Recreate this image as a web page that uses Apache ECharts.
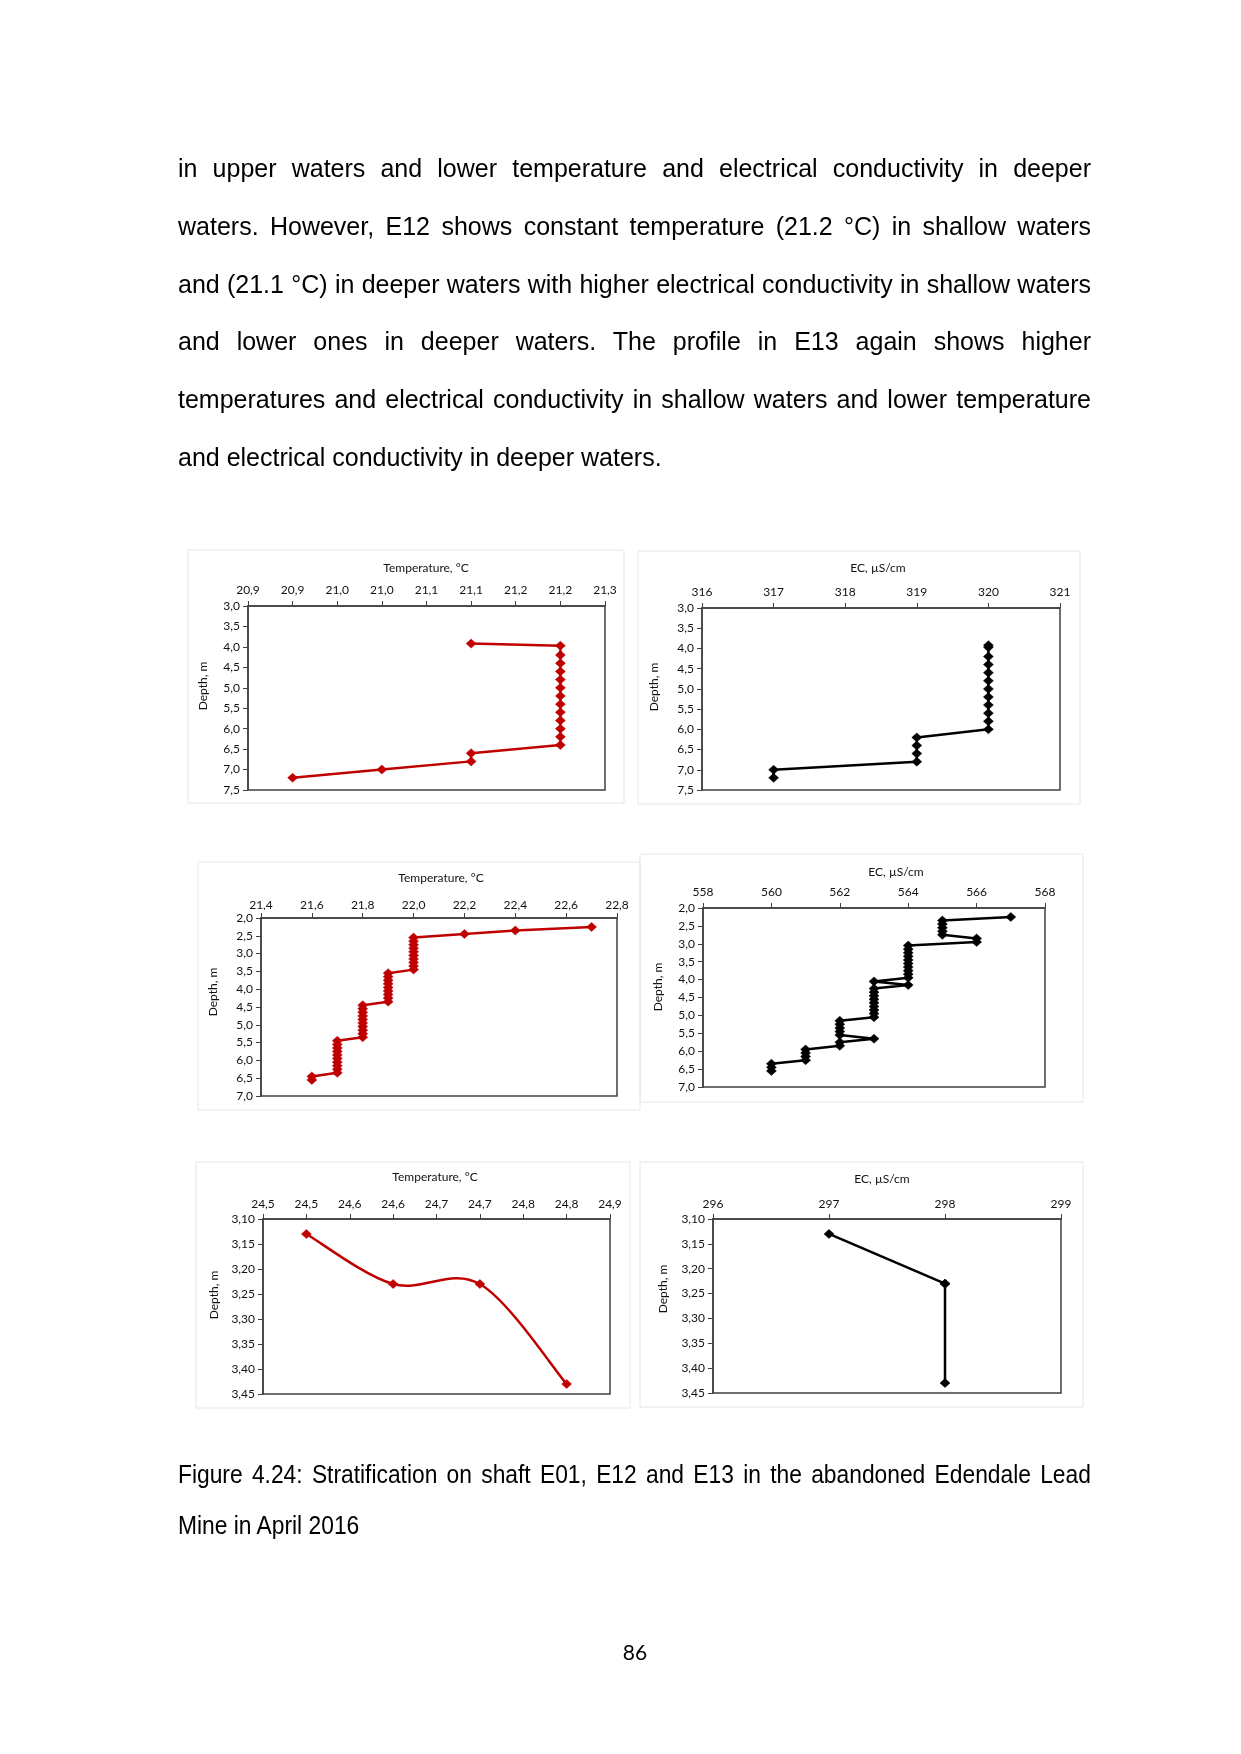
<!DOCTYPE html>
<html><head><meta charset="utf-8">
<script src="https://cdn.jsdelivr.net/npm/echarts@6/dist/echarts.min.js"></script>
<style>
html,body{margin:0;padding:0;background:#fff;}
#page{position:relative;width:1241px;height:1754px;overflow:hidden;background:#fff;}
#chart{position:absolute;left:0;top:0;width:1241px;height:1754px;}
.t{position:absolute;left:178px;width:913px;font-family:"Liberation Sans",Arial,sans-serif;font-size:25px;line-height:28px;color:#000;text-align:justify;text-align-last:justify;}
.last{text-align-last:left;}
.cap{position:absolute;left:178px;font-family:"Liberation Sans",Arial,sans-serif;font-size:25px;line-height:28px;color:#000;transform-origin:0 0;transform:scaleX(0.912);width:1001px;text-align:justify;text-align-last:justify;}
.pn{position:absolute;left:600px;width:70px;text-align:center;font-family:Lato,sans-serif;font-size:21px;line-height:24px;color:#000;}
</style>
</head><body>
<div id="page">
<div id="chart"></div>
<div class="t" style="top:154px">in upper waters and lower temperature and electrical conductivity in deeper</div>
<div class="t" style="top:211.8px">waters. However, E12 shows constant temperature (21.2 °C) in shallow waters</div>
<div class="t" style="top:269.6px">and (21.1 °C) in deeper waters with higher electrical conductivity in shallow waters</div>
<div class="t" style="top:327.4px">and lower ones in deeper waters. The profile in E13 again shows higher</div>
<div class="t" style="top:385.2px">temperatures and electrical conductivity in shallow waters and lower temperature</div>
<div class="t last" style="top:443px">and electrical conductivity in deeper waters.</div>
<div class="cap" style="top:1460px">Figure 4.24: Stratification on shaft E01, E12 and E13 in the abandoned Edendale Lead</div>
<div class="cap" style="top:1511px;text-align-last:left;">Mine in April 2016</div>
<div class="pn" style="top:1640px">86</div>
</div>
<script>
// ---------- DATA ----------
// Shaft E01 (depth in m, temperature in °C, EC in µS/cm)
const e01Depth = [3.92, 3.97, 4.2, 4.4, 4.6, 4.8, 5.0, 5.2, 5.4, 5.6, 5.8, 6.0, 6.2, 6.4, 6.6, 6.8, 7.0, 7.2];
const e01Temp  = [21.1, 21.2, 21.2, 21.2, 21.2, 21.2, 21.2, 21.2, 21.2, 21.2, 21.2, 21.2, 21.2, 21.2, 21.1, 21.1, 21.0, 20.9];
const e01EC    = [320, 320, 320, 320, 320, 320, 320, 320, 320, 320, 320, 320, 319, 319, 319, 319, 317, 317];

// Shaft E12
const e12Depth = [2.25, 2.35, 2.45, 2.55, 2.65, 2.75, 2.85, 2.95, 3.05, 3.15, 3.25, 3.35, 3.45, 3.55, 3.65, 3.75, 3.85, 3.95, 4.05, 4.15, 4.25, 4.35,
                  4.45, 4.55, 4.65, 4.75, 4.85, 4.95, 5.05, 5.15, 5.25, 5.35, 5.45, 5.55, 5.65, 5.75, 5.85, 5.95, 6.05, 6.15, 6.25, 6.35, 6.45, 6.55];
const e12Temp  = [22.7, 22.4, 22.2, 22.0, 22.0, 22.0, 22.0, 22.0, 22.0, 22.0, 22.0, 22.0, 22.0, 21.9, 21.9, 21.9, 21.9, 21.9, 21.9, 21.9, 21.9, 21.9,
                  21.8, 21.8, 21.8, 21.8, 21.8, 21.8, 21.8, 21.8, 21.8, 21.8, 21.7, 21.7, 21.7, 21.7, 21.7, 21.7, 21.7, 21.7, 21.7, 21.7, 21.6, 21.6];
const e12EC    = [567, 565, 565, 565, 565, 565, 566, 566, 564, 564, 564, 564, 564, 564, 564, 564, 564, 564, 563, 564,
                  563, 563, 563, 563, 563, 563, 563, 563, 563, 562, 562, 562, 562, 562, 563, 562, 562, 561, 561, 561, 561, 560, 560, 560];

// Shaft E13
const e13Depth = [3.13, 3.23, 3.23, 3.43];
const e13Temp  = [24.5, 24.6, 24.7, 24.8];
const e13EC    = [297, 298, 298, 298];

// Tick labels (as printed on the axes)
const e01TempTicks  = ['20,9', '20,9', '21,0', '21,0', '21,1', '21,1', '21,2', '21,2', '21,3'];
const e01ECTicks    = ['316', '317', '318', '319', '320', '321'];
const e01DepthTicks = ['3,0', '3,5', '4,0', '4,5', '5,0', '5,5', '6,0', '6,5', '7,0', '7,5'];
const e12TempTicks  = ['21,4', '21,6', '21,8', '22,0', '22,2', '22,4', '22,6', '22,8'];
const e12ECTicks    = ['558', '560', '562', '564', '566', '568'];
const e12DepthTicks = ['2,0', '2,5', '3,0', '3,5', '4,0', '4,5', '5,0', '5,5', '6,0', '6,5', '7,0'];
const e13TempTicks  = ['24,5', '24,5', '24,6', '24,6', '24,7', '24,7', '24,8', '24,8', '24,9'];
const e13ECTicks    = ['296', '297', '298', '299'];
const e13DepthTicks = ['3,10', '3,15', '3,20', '3,25', '3,30', '3,35', '3,40', '3,45'];

const tempTitle = 'Temperature, °C';
const ecTitle = 'EC, µS/cm';
const depthTitle = 'Depth, m';

// ---------- LAYOUT ----------
const RED = '#c00000', BLACK = '#000000', AX = '#404040', TXT = '#111111';
const FONT = 'Lato, "Open Sans", sans-serif';

const panels = [
  {grid:[248,606,357,184], x:[20.85,21.25,0.05,e01TempTicks], y:[3,7.5,0.5,e01DepthTicks], xm:10, xv:e01Temp, yv:e01Depth, color:RED, title:tempTitle, tp:[426,568], dp:[203,686], frame:[188,550,436,253]},
  {grid:[702,608,358,182], x:[316,321,1,e01ECTicks], y:[3,7.5,0.5,e01DepthTicks], xm:10, xv:e01EC, yv:e01Depth, color:BLACK, title:ecTitle, tp:[878,568], dp:[654,687], frame:[638,551,442,253]},
  {grid:[261,918,356,178], x:[21.4,22.8,0.2,e12TempTicks], y:[2,7,0.5,e12DepthTicks], xm:7, xv:e12Temp, yv:e12Depth, color:RED, title:tempTitle, tp:[441,878], dp:[213,992], frame:[198,862,442,248]},
  {grid:[703,908,342,179], x:[558,568,2,e12ECTicks], y:[2,7,0.5,e12DepthTicks], xm:10, xv:e12EC, yv:e12Depth, color:BLACK, title:ecTitle, tp:[896,872], dp:[658,987], frame:[640,854,443,248]},
  {grid:[263,1219,347,175], x:[24.45,24.85,0.05,e13TempTicks], y:[3.10,3.45,0.05,e13DepthTicks], xm:9, xv:e13Temp, yv:e13Depth, color:RED, smooth:true, title:tempTitle, tp:[435,1177], dp:[214,1295], frame:[196,1162,434,246]},
  {grid:[713,1219,348,174], x:[296,299,1,e13ECTicks], y:[3.10,3.45,0.05,e13DepthTicks], xm:9, xv:e13EC, yv:e13Depth, color:BLACK, title:ecTitle, tp:[882,1179], dp:[663,1289], frame:[640,1162,443,245]}
];

const grids = [], xAxes = [], yAxes = [], series = [], graphics = [];
panels.forEach((p, k) => {
  grids.push({left:p.grid[0], top:p.grid[1], width:p.grid[2], height:p.grid[3], show:true,
    borderColor:AX, borderWidth:1.5, backgroundColor:'rgba(0,0,0,0)', containLabel:false, outerBoundsMode:'none'});
  const xt = p.x[3], yt = p.y[3];
  xAxes.push({type:'value', gridIndex:k, position:'top', min:p.x[0], max:p.x[1], interval:p.x[2],
    axisLine:{show:true, onZero:false, lineStyle:{color:AX, width:1.5}},
    axisTick:{show:true, inside:false, length:5, lineStyle:{color:AX, width:1}},
    axisLabel:{margin:p.xm, fontFamily:FONT, fontSize:12, color:TXT, formatter:(v,i)=> (xt[i] !== undefined ? xt[i] : '')},
    splitLine:{show:false}});
  yAxes.push({type:'value', gridIndex:k, position:'left', inverse:true, min:p.y[0], max:p.y[1], interval:p.y[2],
    axisLine:{show:true, onZero:false, lineStyle:{color:AX, width:1.5}},
    axisTick:{show:true, inside:false, length:5, lineStyle:{color:AX, width:1}},
    axisLabel:{margin:8, fontFamily:FONT, fontSize:12, color:TXT, formatter:(v,i)=> (yt[i] !== undefined ? yt[i] : '')},
    splitLine:{show:false}});
  const pts = p.xv.map((v,i)=>[v, p.yv[i]]);
  series.push({type:'line', xAxisIndex:k, yAxisIndex:k, data:pts,
    symbol:'diamond', symbolSize:[10,9], showSymbol:true,
    lineStyle:{color:p.color, width:2.5, opacity:p.smooth ? 0 : 1},
    itemStyle:{color:p.color, borderColor:p.color, borderWidth:0.5}, z:3, animation:false});
  if (p.smooth) {
    // Excel-style smoothed line: Catmull-Rom style Bezier segments through the data points
    series.push({type:'custom', xAxisIndex:k, yAxisIndex:k, data:pts, encode:{x:0, y:1}, z:2, silent:true, animation:false,
      renderItem:(params, api) => {
        const i = params.dataIndex, n = pts.length;
        if (i >= n - 1) return null;
        const P = j => api.coord(pts[Math.max(0, Math.min(n - 1, j))]);
        const p0 = P(i - 1), p1 = P(i), p2 = P(i + 1), p3 = P(i + 2);
        return {type:'bezierCurve', shape:{
            x1:p1[0], y1:p1[1], x2:p2[0], y2:p2[1],
            cpx1:p1[0] + (p2[0] - p0[0]) / 6, cpy1:p1[1] + (p2[1] - p0[1]) / 6,
            cpx2:p2[0] - (p3[0] - p1[0]) / 6, cpy2:p2[1] - (p3[1] - p1[1]) / 6},
          style:{stroke:p.color, lineWidth:2.5, fill:'none'}};
      }});
  }
  graphics.push({type:'rect', shape:{x:p.frame[0], y:p.frame[1], width:p.frame[2], height:p.frame[3]},
    style:{fill:'none', stroke:'#e6e6e6', lineWidth:1}, z:-10});
  graphics.push({type:'text', x:p.tp[0], y:p.tp[1], style:{text:p.title, font:'12px '+FONT, fill:TXT, textAlign:'center', textVerticalAlign:'middle'}});
  graphics.push({type:'text', x:p.dp[0], y:p.dp[1], rotation:Math.PI/2, style:{text:depthTitle, font:'12px '+FONT, fill:TXT, textAlign:'center', textVerticalAlign:'middle'}});
});

const chart = echarts.init(document.getElementById('chart'), null, {renderer:'canvas'});
chart.setOption({animation:false, backgroundColor:'rgba(0,0,0,0)', grid:grids, xAxis:xAxes, yAxis:yAxes, series:series, graphic:graphics});
</script>
</body></html>
